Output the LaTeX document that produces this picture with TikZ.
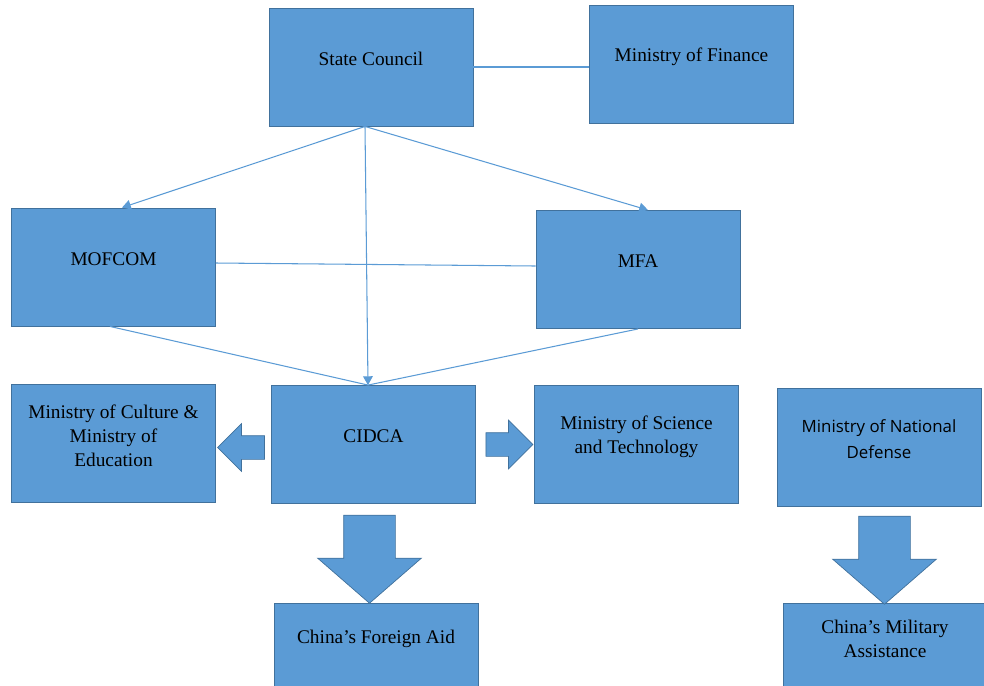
\documentclass[tikz,border=0pt]{standalone}
\usepackage{fontspec}
\setmainfont{Liberation Serif}
\newfontfamily\mndfont{Open Sans}
\usetikzlibrary{positioning,calc,arrows.meta,shapes.arrows}

\definecolor{boxblue}{HTML}{5B9BD5}
\definecolor{edgeblue}{HTML}{41719C}

\tikzset{
  orgbox/.style={draw=edgeblue, fill=boxblue, line width=0.5pt,
    minimum width=4.08cm, minimum height=2.36cm, inner sep=0pt},
  lowbox/.style={orgbox, minimum height=1.74cm},
  txt/.style={align=center, yshift=0.16cm, inner sep=0pt,
    font=\fontsize{11}{13.6}\selectfont},
  link/.style={draw=boxblue, line width=0.6pt},
  linkarrow/.style={link, -{Triangle[length=5pt,width=5.5pt]}},
  blockarrow/.style={single arrow, draw=edgeblue, fill=boxblue,
    line width=0.4pt, single arrow tip angle=90},
}

\begin{document}
\begin{tikzpicture}
  \useasboundingbox (0,0) rectangle (19.68,-13.7);
  % boxes
  \node[orgbox, label={[txt]center:State Council}] (sc) at (7.42,-1.34) {};
  \node[orgbox, label={[txt]center:Ministry of Finance}] (mof) at (13.83,-1.29) {};
  \node[orgbox, label={[txt]center:MOFCOM}] (mofcom) at (2.27,-5.34) {};
  \node[orgbox, label={[txt]center:MFA}] (mfa) at (12.76,-5.39) {};
  \node[orgbox, label={[txt]center:Ministry of Culture \&\\Ministry of\\Education}] (cult) at (2.27,-8.87) {};
  \node[orgbox, label={[txt]center:CIDCA}] (cidca) at (7.47,-8.89) {};
  \node[orgbox, label={[txt]center:Ministry of Science\\and Technology}] (mst) at (12.73,-8.89) {};
  \node[orgbox, label={[txt, font=\mndfont\fontsize{9.6}{14.7}\selectfont]center:Ministry of National\\Defense}] (mnd) at (17.58,-8.94) {};
  \node[lowbox, label={[txt]center:China’s Foreign Aid}] (aid) at (7.52,-12.93) {};
  \node[lowbox, label={[txt]center:China’s Military\\Assistance}] (mil) at (17.7,-12.93) {};

  % thin lines
  \draw[link] (sc.east) -- (mof.west |- sc.east);
  \draw[link] ([yshift=0.08cm]mofcom.east) -- ([yshift=0.07cm]mfa.west);
  \draw[linkarrow] ([xshift=-0.12cm]sc.south) -- ([xshift=0.17cm]mofcom.north);
  \draw[linkarrow] ([xshift=-0.12cm]sc.south) -- ([xshift=0.2cm]mfa.north);
  \draw[linkarrow] ([xshift=-0.12cm]sc.south) -- ([xshift=-0.11cm]cidca.north);
  \draw[link] ([xshift=-0.07cm]mofcom.south) -- ([xshift=-0.11cm]cidca.north);
  \draw[link] (mfa.south) -- ([xshift=-0.11cm]cidca.north);

  % block arrows
  \node[blockarrow, shape border rotate=180, minimum height=0.94cm, inner xsep=0pt, inner ysep=0.23cm,
    single arrow head extend=0.24cm] (toCult) at ([xshift=0.07cm,yshift=-0.07cm]$(cult.east)!0.5!(cidca.west)$) {};
  \node[blockarrow, minimum height=0.94cm, inner xsep=0pt, inner ysep=0.23cm,
    single arrow head extend=0.25cm] (toMst) at ([xshift=-0.03cm]$(cidca.east)!0.5!(mst.west)$) {};
  \node[blockarrow, shape border rotate=270, minimum height=1.76cm, inner ysep=0pt, inner xsep=0.51cm,
    single arrow head extend=0.52cm, single arrow tip angle=98] (toAid) at (7.39,-10.96) {};
  \node[blockarrow, shape border rotate=270, minimum height=1.76cm, inner ysep=0pt, inner xsep=0.51cm,
    single arrow head extend=0.52cm, single arrow tip angle=98] (toMil) at (17.69,-10.98) {};
\end{tikzpicture}
\end{document}
